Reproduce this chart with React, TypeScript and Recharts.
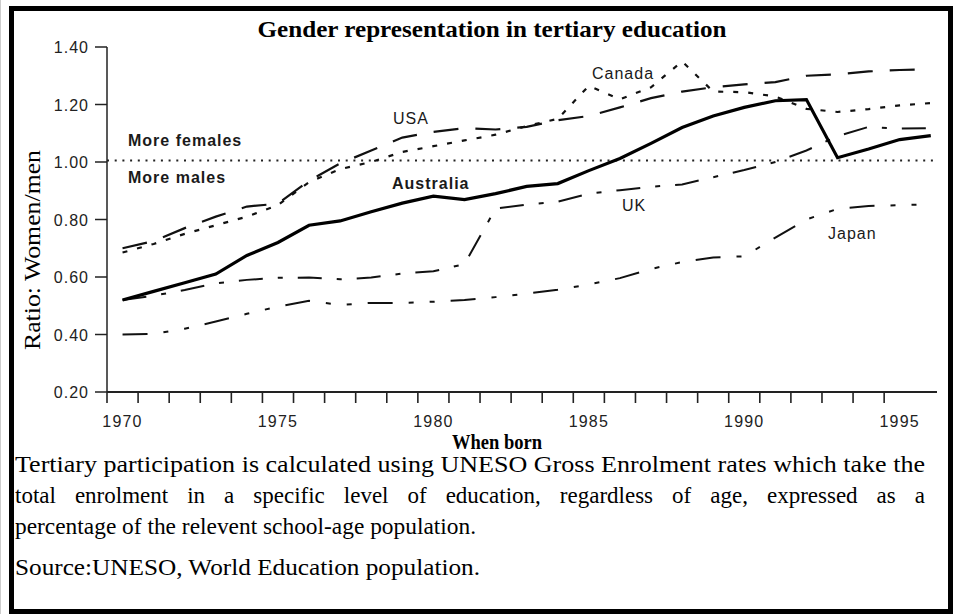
import React from 'react';
import { LineChart, Line, XAxis, YAxis, ReferenceLine } from 'recharts';

const years = [1970, 1971, 1972, 1973, 1974, 1975, 1976, 1977, 1978, 1979, 1980, 1981, 1982, 1983, 1984, 1985, 1986, 1987, 1988, 1989, 1990, 1991, 1992, 1993, 1994, 1995, 1996];
const australia = [0.52, 0.55, 0.58, 0.61, 0.675, 0.72, 0.78, 0.795, 0.827, 0.857, 0.881, 0.869, 0.89, 0.915, 0.925, 0.97, 1.012, 1.065, 1.12, 1.16, 1.19, 1.213, 1.217, 1.015, 1.045, 1.078, 1.092];
const usa = [0.70, 0.725, 0.77, 0.81, 0.845, 0.855, 0.935, 0.995, 1.04, 1.085, 1.105, 1.118, 1.113, 1.122, 1.145, 1.16, 1.19, 1.222, 1.245, 1.26, 1.27, 1.278, 1.30, 1.305, 1.315, 1.32, 1.322];
const canada = [0.685, 0.715, 0.75, 0.78, 0.81, 0.85, 0.93, 0.975, 1.0, 1.035, 1.055, 1.075, 1.095, 1.125, 1.15, 1.265, 1.218, 1.26, 1.35, 1.245, 1.243, 1.228, 1.185, 1.174, 1.184, 1.197, 1.205];
const uk = [0.52, 0.535, 0.555, 0.578, 0.59, 0.597, 0.598, 0.592, 0.598, 0.612, 0.62, 0.645, 0.838, 0.852, 0.862, 0.89, 0.902, 0.914, 0.922, 0.947, 0.972, 1.0, 1.04, 1.09, 1.122, 1.116, 1.118];
const japan = [0.40, 0.402, 0.42, 0.445, 0.472, 0.497, 0.517, 0.503, 0.51, 0.51, 0.514, 0.52, 0.53, 0.542, 0.556, 0.574, 0.596, 0.628, 0.652, 0.668, 0.672, 0.737, 0.80, 0.837, 0.847, 0.85, 0.853];

const yTicks = [0.2, 0.4, 0.6, 0.8, 1.0, 1.2, 1.4];
const xLabelYears = [1970, 1975, 1980, 1985, 1990, 1995];
const xMinorTicks = years.slice(0, 26).map((y) => y - 0.5);
const xTicks = [...xMinorTicks, ...xLabelYears].sort((a, b) => a - b);
const parityLevel = 1.005;

const data = years.map((year, i) => ({
  year,
  australia: australia[i],
  usa: usa[i],
  canada: canada[i],
  uk: uk[i],
  japan: japan[i],
}));

const sans = '"Liberation Sans", Arial, sans-serif';
const serif = '"Liberation Serif", "Times New Roman", serif';

const XTick = (props: any) => {
  const { x, y, payload } = props;
  const v = payload.value;
  if (Number.isInteger(v)) {
    return (
      <text x={x} y={y + 35} textAnchor="middle" fontFamily={sans} fontSize={16} fill="#222" letterSpacing={1.2}>
        {v}
      </text>
    );
  }
  return <line x1={x} y1={y} x2={x} y2={y + 11} stroke="#222" strokeWidth={1.6} />;
};

const YTick = (props: any) => {
  const { x, y, payload } = props;
  return (
    <text x={x} y={y + 6} textAnchor="end" fontFamily={sans} fontSize={16} fill="#222" letterSpacing={1}>
      {Number(payload.value).toFixed(2)}
    </text>
  );
};

const ann = { fontFamily: sans, fontSize: 16, fill: '#1a1a1a', letterSpacing: 1 } as const;

export default function App() {
  return (
    <div style={{ position: 'fixed', left: 0, top: 0, width: 953, height: 614, background: '#fff', overflow: 'hidden' }}>
      <div style={{ position: 'absolute', left: 0, top: 0, width: 1, height: 614, background: '#ccc' }} />
      <LineChart width={953} height={614} data={data} margin={{ top: 47, right: 16, left: 0, bottom: 0 }}>
        <XAxis
          dataKey="year"
          type="number"
          domain={[1969.5, 1996.2]}
          ticks={xTicks}
          interval={0}
          tick={<XTick />}
          tickLine={false}
          tickSize={0}
          tickMargin={0}
          height={222}
          axisLine={{ stroke: '#222', strokeWidth: 2 }}
          allowDataOverflow
        />
        <YAxis
          type="number"
          domain={[0.2, 1.4]}
          ticks={yTicks}
          interval={0}
          width={107}
          tick={<YTick />}
          tickSize={12}
          tickMargin={6}
          tickLine={{ stroke: '#222', strokeWidth: 1.5 }}
          axisLine={{ stroke: '#222', strokeWidth: 1.5 }}
        />
        <ReferenceLine y={parityLevel} stroke="#222" strokeWidth={2} strokeDasharray="2 5.7" />
        <Line dataKey="japan" type="linear" stroke="#111" strokeWidth={2} strokeDasharray="25 16 5 16 5 16" dot={false} isAnimationActive={false} />
        <Line dataKey="uk" type="linear" stroke="#111" strokeWidth={2} strokeDasharray="24 15 5 15" dot={false} isAnimationActive={false} />
        <Line dataKey="canada" type="linear" stroke="#111" strokeWidth={2.2} strokeDasharray="5 10" dot={false} isAnimationActive={false} />
        <Line dataKey="usa" type="linear" stroke="#111" strokeWidth={2.2} strokeDasharray="25 17" dot={false} isAnimationActive={false} />
        <Line dataKey="australia" type="linear" stroke="#000" strokeWidth={3.2} dot={false} isAnimationActive={false} />
      </LineChart>

      <svg width={953} height={614} style={{ position: 'absolute', left: 0, top: 0, pointerEvents: 'none' }}>
        <text x={492} y={37} textAnchor="middle" fontFamily={serif} fontWeight="bold" fontSize={24} textLength={469} lengthAdjust="spacingAndGlyphs" fill="#000">
          Gender representation in tertiary education
        </text>
        <text x={0} y={0} transform="translate(40,250) rotate(-90)" textAnchor="middle" fontFamily={serif} fontSize={23} textLength={200} lengthAdjust="spacingAndGlyphs" fill="#000">
          Ratio: Women/men
        </text>
        <text x={497} y={449} textAnchor="middle" fontFamily={serif} fontWeight="bold" fontSize={21} textLength={90} lengthAdjust="spacingAndGlyphs" fill="#000">
          When born
        </text>

        <text x={128} y={146} {...ann} fontWeight="bold">More females</text>
        <text x={128} y={183} {...ann} fontWeight="bold">More males</text>
        <text x={393} y={124} {...ann}>USA</text>
        <text x={592} y={79} {...ann}>Canada</text>
        <text x={392} y={189} {...ann} fontWeight="bold">Australia</text>
        <text x={622} y={211} {...ann}>UK</text>
        <text x={828} y={239} {...ann}>Japan</text>

        <text x={15} y={472} fontFamily={serif} fontSize={23} textLength={910} lengthAdjust="spacingAndGlyphs" fill="#000">
          Tertiary participation is calculated using UNESO Gross Enrolment rates which take the
        </text>
        <text x={15} y={534} fontFamily={serif} fontSize={23} textLength={461} lengthAdjust="spacingAndGlyphs" fill="#000">
          percentage of the relevent school-age population.
        </text>
        <text x={15} y={575} fontFamily={serif} fontSize={23} textLength={465} lengthAdjust="spacingAndGlyphs" fill="#000">
          Source:UNESO, World Education population.
        </text>
      </svg>

      <div style={{ position: 'absolute', left: 15, top: 483, width: 910, fontFamily: serif, fontSize: 23, lineHeight: '26px', textAlign: 'justify', textAlignLast: 'justify', color: '#000' }}>
        total enrolment in a specific level of education, regardless of age, expressed as a
      </div>

      <div style={{ position: 'absolute', left: 9, top: 6, width: 944, height: 608, border: '5px solid #000', boxSizing: 'border-box', pointerEvents: 'none' }} />
    </div>
  );
}
